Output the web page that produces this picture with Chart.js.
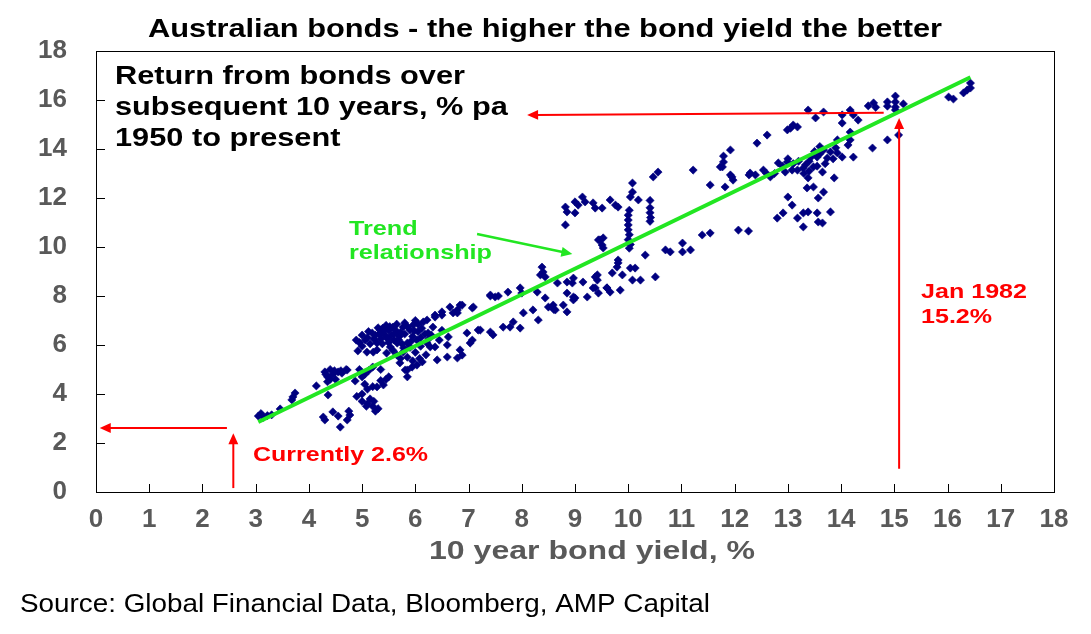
<!DOCTYPE html>
<html>
<head>
<meta charset="utf-8">
<script src="https://cdn.jsdelivr.net/npm/chart.js@4.4.0/dist/chart.umd.min.js"></script>
<style>
html, body { margin: 0; padding: 0; background: #fff; }
#wrap { width: 1091px; height: 634px; position: relative; }
</style>
</head>
<body>
<div id="wrap"><canvas id="chart"></canvas></div>
<script>
var FONT = 'Arial, "Liberation Sans", sans-serif';

// 10 year bond yield (x) vs return over the following 10 years (y), % pa
var obs = [
    [3.05,3.10],[3.10,3.20],[3.15,3.05],[3.22,3.12],[3.30,3.15],[3.46,3.39],[3.68,3.76],[3.70,3.88],[3.74,4.04],
    [4.14,4.33],[4.36,3.96],[4.27,3.06],[4.30,2.94],[4.45,3.27],[4.55,3.10],[4.59,2.65],[4.72,2.94],[4.77,3.14],[4.75,3.30],
    [4.30,4.90],[4.35,4.70],[4.40,5.00],[4.45,4.80],[4.50,4.60],[4.35,4.50],[4.55,4.90],[4.60,4.95],[4.70,5.00],[4.40,4.60],
    [4.72,4.98],[4.87,4.53],[4.95,5.00],[5.00,4.70],[5.05,4.40],[5.10,4.20],[5.00,4.00],[4.90,3.90],[5.00,3.70],[5.10,3.60],
    [5.20,3.50],[5.25,3.30],[5.30,3.40],[5.15,3.80],[5.20,4.30],[5.28,4.29],[5.40,4.37],[5.35,4.55],[5.45,4.60],[5.50,4.70],
    [5.35,5.00],[5.20,5.10],[5.05,4.80],[5.12,4.95],[4.32,4.80],[4.48,4.95],[4.62,4.85],[5.08,3.50],[5.22,3.70],
    [4.89,6.20],[4.92,5.76],[5.09,5.71],[5.06,6.20],[5.19,6.49],[5.34,6.61],[5.39,6.69],[5.28,6.08],[5.21,5.71],[5.46,6.33],
    [5.58,6.73],[5.66,6.49],[5.77,6.73],[5.90,6.61],[5.96,6.82],[6.15,6.94],[6.24,6.49],[6.03,6.20],[5.85,6.08],[5.77,5.71],
    [5.71,5.27],[5.85,4.98],[5.94,5.10],[6.03,5.18],[6.13,5.31],[5.66,6.08],[5.53,5.92],[5.46,5.67],[5.28,5.80],[6.22,6.08],
    [6.28,5.92],[6.33,6.73],[6.37,7.14],[6.50,7.22],[6.65,7.55],[6.84,7.63],[6.79,7.31],[7.09,7.55],[7.41,8.00],[7.56,8.00],
    [6.97,6.49],[7.18,6.61],[7.41,6.53],[7.03,6.08],[6.84,5.80],[6.88,5.59],[6.79,5.47],[6.60,6.00],[6.60,5.51],[6.41,5.39],
    [6.37,5.92],[5.85,4.70],[5.81,4.98],
    [5.00,6.40],[5.10,6.30],[5.25,6.40],[5.40,6.45],[5.50,6.60],[5.55,6.40],[5.60,6.20],[5.70,6.35],[5.80,6.45],[5.95,6.35],
    [6.05,6.55],[6.10,6.30],[5.35,6.25],[5.15,6.05],[5.50,6.10],[5.75,6.05],[5.90,5.90],[6.10,5.95],[6.00,5.70],[5.85,5.50],
    [5.65,5.60],[6.20,5.60],[5.95,5.35],[5.00,5.95],[4.95,6.10],[5.30,6.70],[5.45,6.80],[5.65,6.85],[5.80,6.90],[6.00,7.00],
    [6.30,6.40],[6.45,6.20],[6.50,6.60],
    [5.12,6.55],[5.22,6.25],[5.32,6.45],[5.42,6.58],[5.52,6.75],[5.62,6.62],[5.72,6.52],[5.85,6.75],[6.05,6.85],[6.12,6.68],
    [5.60,6.45],[5.48,6.25],[5.38,6.05],[5.68,6.22],[5.92,6.15],[6.18,6.45],[6.25,6.25],[5.98,6.58],[5.58,5.78],[5.78,5.88],
    [6.08,5.45],[5.72,5.45],
    [6.88,7.63],[6.79,7.43],[6.71,7.31],[7.07,7.51],[6.50,7.35],[6.37,7.22],[6.62,6.33],[6.22,7.02],[7.07,6.20],[7.22,6.61],
    [7.46,6.41],[7.65,6.73],[7.78,6.73],[7.84,6.94],[7.97,6.69],[8.31,7.02],[8.03,7.31],[8.21,7.43],[8.59,7.63],[8.63,7.43],
    [8.78,7.63],[8.85,7.35],[8.97,7.84],[7.41,8.04],[7.50,7.96],[7.74,8.16],[7.97,8.33],[8.00,8.12],[8.29,8.16],[8.44,7.92],
    [8.38,9.18],[8.40,8.98],[8.35,8.86],[8.44,8.78],[8.67,8.53],[8.85,8.57],[8.97,8.73],[8.95,8.53],[9.15,8.57],[9.42,8.86],
    [9.42,8.65],[9.70,8.94],[9.81,9.35],[8.85,8.12],[9.00,7.92],[9.38,8.33],[9.44,8.12],[9.60,8.33],[9.66,8.16],[9.23,7.96],
    [9.47,10.29],[9.51,10.08],[9.53,9.96],[9.44,10.29],[9.53,10.37],[8.60,7.45],[8.50,7.55],
    [8.82,11.63],[8.85,11.43],[8.82,10.90],[9.00,11.84],[9.14,12.04],[9.19,11.84],[9.06,11.71],[9.00,11.39],[9.34,11.80],
    [9.38,11.59],[9.51,11.59],[9.66,11.92],[9.76,11.71],[9.81,11.63],[10.08,12.61],[10.08,12.24],[10.04,12.04],[10.19,11.92],
    [10.02,11.50],[10.00,11.30],[10.00,11.10],[10.00,10.90],[10.00,10.70],[10.02,10.50],[10.00,10.30],[10.04,10.10],[10.02,9.95],
    [10.41,11.90],[10.41,11.60],[10.41,11.40],[10.42,11.20],[10.41,11.05],[10.47,12.86],[10.56,13.06],[11.22,13.14],[11.54,12.53],
    [11.73,13.27],[11.79,13.47],[11.82,12.45],[11.92,12.94],[11.97,12.73],[12.29,13.02],[12.39,12.94],
    [9.81,9.47],[9.79,9.18],[9.89,8.86],[10.04,9.14],[10.13,9.14],[10.08,8.65],[10.23,8.65],[10.51,8.78],[10.32,9.67],
    [10.70,9.88],[10.79,9.80],[11.02,10.16],[11.02,9.80],[11.17,9.88],[11.39,10.49],[11.54,10.57],[12.07,10.69],[12.26,10.65],
    [9.34,8.33],[9.60,8.33],[9.85,8.24],[8.97,7.96],[9.38,8.78],
    [11.79,13.71],[11.77,13.27],[11.92,13.96],[11.95,12.86],[12.27,12.94],[12.54,13.14],[12.67,12.86],[12.42,14.24],[12.61,14.57],
    [12.82,13.43],[12.99,13.47],[12.95,13.06],[13.08,13.14],[12.99,14.78],[13.10,14.98],[13.18,14.90],[13.05,14.85],[13.18,13.14],
    [13.29,13.22],[13.33,13.35],[13.38,12.82],[13.36,12.41],[13.48,12.45],[13.38,15.59],[13.67,15.51],[13.52,15.27],[13.67,13.96],
    [13.80,13.88],[13.74,13.63],[13.93,13.84],[14.02,13.67],[13.93,14.37],[13.55,13.67],[13.48,13.27],[13.65,13.06],[13.87,12.82],
    [14.02,15.06],[14.02,15.39],[14.17,15.59],[14.23,15.39],[14.32,15.18],[14.17,14.69],[14.17,14.37],[14.13,14.16],[14.23,13.67],
    [14.59,14.04],[14.87,14.37],[15.08,14.57],[14.51,15.76],[14.61,15.88],[14.65,15.70],[14.87,15.92],[14.87,15.75],[15.02,16.16],
    [15.02,15.92],[15.02,15.71],[15.02,15.59],[15.17,15.84],[16.02,16.12],[16.11,16.04],[16.30,16.29],[16.37,16.41],[16.43,16.69],
    [16.43,16.49],
    [13.00,12.04],[13.08,11.71],[12.80,11.18],[12.91,11.39],[13.29,11.39],[13.38,11.43],[13.55,11.39],[13.18,11.18],[13.29,10.82],
    [13.57,11.02],[13.65,10.98],[13.80,11.43],[13.57,12.00],[13.67,12.24],
    [12.90,13.30],[13.00,13.60],[13.10,13.40],[13.20,13.50],[13.40,13.50],[13.45,13.70],[13.50,13.90],[13.60,13.80],[13.40,13.10],
    [13.55,13.30],[13.70,13.40],[13.85,13.60],[13.90,14.05],[13.60,14.10],[13.30,13.00],[12.75,13.00],[12.60,13.00]
];

var trendYield = [3.05, 16.43];
var trendReturn = [2.86, 16.93];

// annotation arrows in data units: [x0, y0, x1, y1], head at x1,y1
var redArrows = [
    [2.46, 2.61, 0.07, 2.61],
    [2.58, 0.16, 2.58, 2.40],
    [14.80, 15.48, 8.10, 15.39],
    [15.09, 0.95, 15.09, 15.27]
];
var greenArrow = [7.16, 10.53, 8.95, 9.71];

var points = obs.map(function (p) { return {x: p[0], y: p[1]}; });
var trend = trendYield.map(function (v, i) { return {x: v, y: trendReturn[i]}; });

function arrow(ctx, x0, y0, x1, y1, color, lw, head) {
    var ang = Math.atan2(y1 - y0, x1 - x0);
    ctx.save();
    ctx.strokeStyle = color;
    ctx.fillStyle = color;
    ctx.lineWidth = lw;
    ctx.beginPath();
    ctx.moveTo(x0, y0);
    ctx.lineTo(x1 - Math.cos(ang) * head * 0.8, y1 - Math.sin(ang) * head * 0.8);
    ctx.stroke();
    ctx.beginPath();
    ctx.moveTo(x1, y1);
    ctx.lineTo(x1 - head * Math.cos(ang) + head * 0.45 * Math.sin(ang), y1 - head * Math.sin(ang) - head * 0.45 * Math.cos(ang));
    ctx.lineTo(x1 - head * Math.cos(ang) - head * 0.45 * Math.sin(ang), y1 - head * Math.sin(ang) + head * 0.45 * Math.cos(ang));
    ctx.closePath();
    ctx.fill();
    ctx.restore();
}

// the reference text is a little stretched sideways, so draw with a horizontal scale
function wideText(ctx, lines, x, y0, dy, sx) {
    for (var i = 0; i < lines.length; i++) {
        ctx.save();
        ctx.translate(x, y0 + i * dy);
        ctx.scale(sx, 1);
        ctx.fillText(lines[i], 0, 0);
        ctx.restore();
    }
}
function scaleFor(ctx, text, width) {
    return width / ctx.measureText(text).width;
}

var extras = {
    id: 'extras',
    afterDraw: function (chart) {
        var ctx = chart.ctx;
        var a = chart.chartArea;
        var xs = chart.scales.x, ys = chart.scales.y;

        // plot frame and inside tick marks
        ctx.save();
        ctx.strokeStyle = '#000';
        ctx.lineWidth = 1;
        ctx.strokeRect(Math.round(a.left) + 0.5, Math.round(a.top) + 0.5, Math.round(a.right - a.left), Math.round(a.bottom - a.top));
        ctx.beginPath();
        for (var i = 1; i < 18; i++) {
            var px = Math.round(xs.getPixelForValue(i)) + 0.5;
            ctx.moveTo(px, a.bottom);
            ctx.lineTo(px, a.bottom - 8);
        }
        for (var j = 2; j < 18; j += 2) {
            var py = Math.round(ys.getPixelForValue(j)) + 0.5;
            ctx.moveTo(a.left, py);
            ctx.lineTo(a.left + 9, py);
        }
        ctx.stroke();
        ctx.restore();

        redArrows.forEach(function (r) {
            arrow(ctx, xs.getPixelForValue(r[0]), ys.getPixelForValue(r[1]),
                xs.getPixelForValue(r[2]), ys.getPixelForValue(r[3]), '#ff0000', 2, 11);
        });
        arrow(ctx, xs.getPixelForValue(greenArrow[0]), ys.getPixelForValue(greenArrow[1]),
            xs.getPixelForValue(greenArrow[2]), ys.getPixelForValue(greenArrow[3]), '#22e622', 2.5, 11);

        ctx.save();
        ctx.textBaseline = 'middle';
        ctx.textAlign = 'center';
        ctx.fillStyle = '#000';
        ctx.font = 'bold 25px ' + FONT;
        var title = 'Australian bonds - the higher the bond yield the better';
        wideText(ctx, [title], 545, 30, 0, scaleFor(ctx, title, 794));

        ctx.textAlign = 'left';
        ctx.font = 'bold 25px ' + FONT;
        wideText(ctx, ['Return from bonds over', 'subsequent 10 years, % pa', '1950 to present'],
            115, 77, 31, scaleFor(ctx, 'Return from bonds over', 350));

        ctx.fillStyle = '#22e622';
        ctx.font = 'bold 21px ' + FONT;
        wideText(ctx, ['Trend', 'relationship'], 349, 229, 24, scaleFor(ctx, 'relationship', 143));

        ctx.fillStyle = '#ff0000';
        wideText(ctx, ['Jan 1982', '15.2%'], 921, 292, 25, scaleFor(ctx, 'Jan 1982', 106));
        wideText(ctx, ['Currently 2.6%'], 253, 455, 0, scaleFor(ctx, 'Currently 2.6%', 175));

        ctx.fillStyle = '#595959';
        ctx.textAlign = 'center';
        ctx.font = 'bold 26px ' + FONT;
        var xt = '10 year bond yield, %';
        wideText(ctx, [xt], 592, 552, 0, scaleFor(ctx, xt, 326));

        ctx.fillStyle = '#000';
        ctx.textAlign = 'left';
        ctx.font = '25px ' + FONT;
        var src = 'Source: Global Financial Data, Bloomberg, AMP Capital';
        wideText(ctx, [src], 20, 605, 0, scaleFor(ctx, src, 690));
        ctx.restore();
    }
};

new Chart(document.getElementById('chart'), {
    type: 'scatter',
    data: {
        datasets: [{
            type: 'line',
            data: trend,
            borderColor: '#22e622',
            borderWidth: 4,
            pointRadius: 0,
            fill: false,
            order: 0
        }, {
            data: points,
            pointStyle: 'rectRot',
            pointRadius: 4.1,
            pointBackgroundColor: '#000080',
            pointBorderColor: '#000080',
            pointBorderWidth: 0.6,
            order: 1
        }]
    },
    options: {
        responsive: true,
        maintainAspectRatio: false,
        animation: false,
        layout: { padding: { left: 0, right: 37, top: 51, bottom: 0 } },
        plugins: {
            legend: { display: false },
            tooltip: { enabled: false },
            title: { display: false }
        },
        scales: {
            x: {
                type: 'linear',
                min: 0, max: 18,
                afterFit: function (s) { s.height = 142; },
                grid: { display: false, drawTicks: false },
                border: { display: false },
                ticks: { stepSize: 1, padding: 12, color: '#595959', font: { family: FONT, size: 26, weight: 'bold' } }
            },
            y: {
                type: 'linear',
                min: 0, max: 18,
                afterFit: function (s) { s.width = 96; },
                grid: { display: false, drawTicks: false },
                border: { display: false },
                ticks: { stepSize: 2, padding: 29, color: '#595959', font: { family: FONT, size: 26, weight: 'bold' } }
            }
        }
    },
    plugins: [extras]
});
</script>
</body>
</html>
